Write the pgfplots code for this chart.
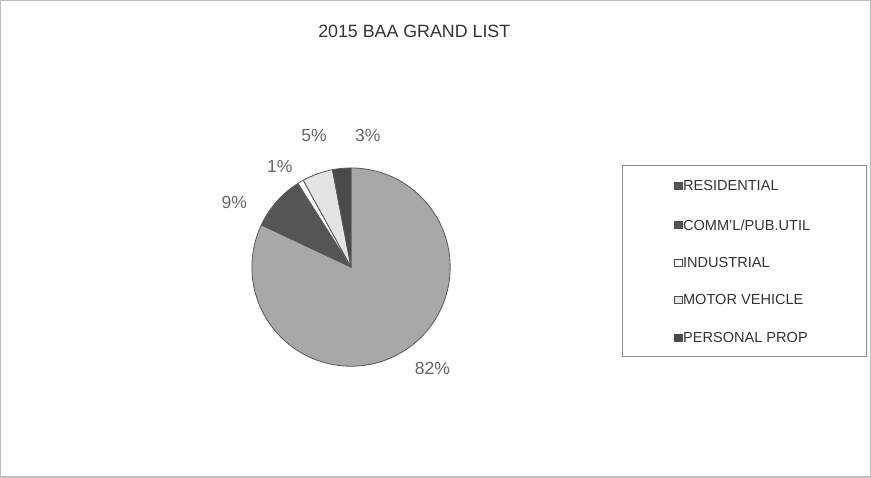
\documentclass[border=0pt]{standalone}
\usepackage{fontspec}
\setmainfont{Liberation Sans}
\usepackage{pgfplots}
\pgfplotsset{compat=1.18}
\definecolor{cRes}{HTML}{A8A8A8}
\definecolor{cCom}{HTML}{555555}
\definecolor{cInd}{HTML}{FFFFFF}
\definecolor{cMot}{HTML}{E4E4E4}
\definecolor{cPer}{HTML}{4A4A4A}
\definecolor{txt}{HTML}{666666}
% slice: start cumulative %, end cumulative %, colour
\newcommand{\slice}[3]{%
  \filldraw[fill=#3, draw=black!65, line width=0.6pt, line join=round]
    (axis cs:353.5,268.5) -- ++({90-3.6*#1}:73.5pt)
    arc[start angle={90-3.6*#1}, end angle={90-3.6*#2}, radius=73.5pt] -- cycle;}
\newcommand{\legitem}[3]{%
  \node[draw=black!70, fill=#2, minimum size=5.2pt, inner sep=0pt, line width=0.4pt] at (axis cs:677,#1) {};
  \node[anchor=west, font=\fontsize{10.8}{12}\selectfont, text=black!80, inner sep=0pt] at (axis cs:681.5,#1) {#3};}
\begin{document}
\begin{tikzpicture}
\begin{axis}[
  width=653.25pt, height=359.25pt, scale only axis,
  xmin=0, xmax=871, ymin=0, ymax=479, y dir=reverse,
  hide axis, clip=false]
% outer frame
\draw[black!25, line width=0.8pt] (axis cs:7,5) rectangle (axis cs:867,476);
% title
\node[font=\fontsize{13.2}{15}\selectfont, text=black!80] at (axis cs:416,35) {2015 BAA GRAND LIST};
% data: RESIDENTIAL 82, COMM'L/PUB.UTIL 9, INDUSTRIAL 1, MOTOR VEHICLE 5, PERSONAL PROP 3
\slice{0}{82}{cRes}
\slice{82}{91}{cCom}
\slice{91}{92}{cInd}
\slice{92}{97}{cMot}
\slice{97}{100}{cPer}
% labels
\begin{scope}[every node/.style={font=\fontsize{13}{15}\selectfont, text=txt}]
\node at (axis cs:434,369) {82\%};
\node at (axis cs:238,205) {9\%};
\node at (axis cs:283,169) {1\%};
\node at (axis cs:317,138) {5\%};
\node at (axis cs:370,138) {3\%};
\end{scope}
% legend
\draw[black!45, line width=0.6pt] (axis cs:622,168) rectangle (axis cs:863,357);
\legitem{188}{cCom}{RESIDENTIAL}
\legitem{227}{cCom}{COMM'L/PUB.UTIL}
\legitem{264}{cInd}{INDUSTRIAL}
\legitem{301}{cMot}{MOTOR VEHICLE}
\legitem{338}{cPer}{PERSONAL PROP}
\end{axis}
\end{tikzpicture}
\end{document}
